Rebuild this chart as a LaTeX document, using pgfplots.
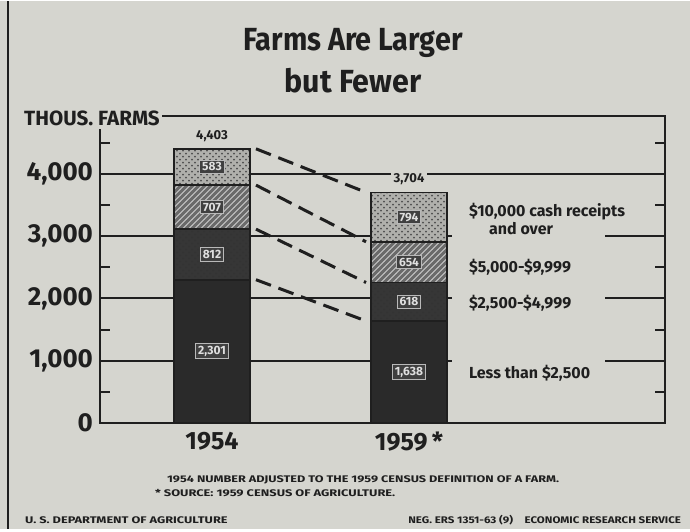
\documentclass[border=0pt]{standalone}
\usepackage{pgfplots}
\pgfplotsset{compat=1.18}
\usepackage{fontspec}
\setmainfont{Fira Sans}
\usetikzlibrary{patterns}
\definecolor{bg}{HTML}{D5D5CF}
\definecolor{ink}{HTML}{1F1F1F}
\definecolor{cA}{HTML}{2A2A2A}
\definecolor{cB}{HTML}{363636}
\definecolor{cC}{HTML}{6A6A6A}
\definecolor{cD}{HTML}{B0B0AC}
\begin{document}
\begin{tikzpicture}
\fill[bg] (0,0) rectangle (345pt,264pt);
\draw[ink, line width=1pt] (4pt,0) -- (4pt,264pt);
% main axis
\begin{axis}[
  name=main,
  scale only axis, width=282.5pt, height=153.5pt,
  at={(50pt,53pt)}, anchor=south west,
  xmin=-0.569, xmax=2.30, ymin=0, ymax=4930,
  ybar stacked, bar width=0.386,
  axis line style={ink, line width=1pt},
  xtick={0,1}, xticklabels={1954,1959\,*},
  x tick label style={font=\bfseries\fontsize{12.5}{14}\selectfont, text=ink, yshift=-1pt},
  major x tick style={draw=none},
  ytick={0,1000,2000,3000,4000},
  yticklabels={0\hspace{10pt},{1,000},{2,000},{3,000},{4,000}},
  y tick label style={font=\bfseries\fontsize{13}{15}\selectfont, text=ink},
  major y tick style={draw=none},
  minor ytick={500,1500,2500,3500,4500},
  minor tick length=5pt,
  minor y tick style={ink, line width=1pt},
  tick align=inside,
  ymajorgrids, major grid style={ink, line width=1pt},
  clip=false,
]
\addplot[fill=cA, draw=ink, line width=0.8pt] coordinates {(0,2301) (1,1638)};
\addplot[fill=cB, draw=ink, line width=0.8pt, postaction={pattern=crosshatch dots, pattern color=black!60!gray}] coordinates {(0,812) (1,618)};
\addplot[fill=cC, draw=ink, line width=0.8pt, postaction={pattern=north east lines, pattern color=gray!40}] coordinates {(0,707) (1,654)};
\addplot[fill=cD, draw=ink, line width=0.8pt, postaction={pattern=crosshatch dots, pattern color=black!70}] coordinates {(0,583) (1,794)};
\fill[bg] (axis cs:1.218,600) rectangle (axis cs:1.995,3580);
\end{axis}
% overlay axis for connectors and labels
\begin{axis}[
  scale only axis, width=282.5pt, height=153.5pt,
  at={(50pt,53pt)}, anchor=south west,
  xmin=-0.569, xmax=2.30, ymin=0, ymax=4930,
  axis lines=none, clip=false,
]
\addplot[ink, line width=1.5pt, dash pattern=on 8pt off 4pt] coordinates {(0.223,4403) (0.782,3704)};
\addplot[ink, line width=1.5pt, dash pattern=on 8pt off 4pt] coordinates {(0.223,3820) (0.782,2910)};
\addplot[ink, line width=1.5pt, dash pattern=on 8pt off 4pt] coordinates {(0.223,3113) (0.782,2256)};
\addplot[ink, line width=1.5pt, dash pattern=on 8pt off 4pt] coordinates {(0.223,2301) (0.782,1638)};
\addplot[only marks, mark=*, mark size=0pt, mark options={draw=none,fill=none},
  nodes near coords, point meta=explicit symbolic,
  nodes near coords style={anchor=center, font=\bfseries\fontsize{6}{7}\selectfont,
    text=gray!25, draw=gray!55, line width=0.5pt, fill=black!75, inner sep=1.2pt}]
  table[meta=lab] {
x y lab
0 1150 2,301
0 2707 812
0 3466 707
0 4112 583
1 819 1,638
1 1947 618
1 2583 654
1 3307 794
};
\addplot[only marks, mark=*, mark size=0pt, mark options={draw=none,fill=none},
  nodes near coords, point meta=explicit symbolic,
  nodes near coords style={anchor=south, yshift=2pt, font=\bfseries\fontsize{6.5}{7}\selectfont,
    text=ink, fill=bg, inner sep=1.5pt}]
  table[meta=lab] {
x y lab
0 4403 4,403
1 3704 3,704
};
\node[anchor=west, font=\bfseries\fontsize{8}{9}\selectfont, text=ink] at (axis cs:1.269,3390) {\$10,000 cash receipts};
\node[anchor=west, font=\bfseries\fontsize{8}{9}\selectfont, text=ink] at (axis cs:1.371,3116) {and over};
\node[anchor=west, font=\bfseries\fontsize{8}{9}\selectfont, text=ink] at (axis cs:1.269,2506) {\$5,000-\$9,999};
\node[anchor=west, font=\bfseries\fontsize{8}{9}\selectfont, text=ink] at (axis cs:1.269,1928) {\$2,500-\$4,999};
\node[anchor=west, font=\bfseries\fontsize{8}{9}\selectfont, text=ink] at (axis cs:1.269,803) {Less than \$2,500};
\end{axis}
% texts
\node[font=\bfseries\fontsize{16}{18}\selectfont, text=ink] at (176.5pt,243pt) {\scalebox{0.9}[1]{Farms Are Larger}};
\node[font=\bfseries\fontsize{16}{18}\selectfont, text=ink] at (176.5pt,224pt) {\scalebox{0.95}[1]{but Fewer}};
\node[font=\bfseries\fontsize{10.3}{12}\selectfont, text=ink, fill=bg, inner xsep=1pt, inner ysep=2pt] at (46pt,205.5pt) {THOUS. FARMS};
\node[anchor=west, font=\bfseries\fontsize{4.8}{5}\selectfont, text=ink] at (80pt,24.5pt) {\scalebox{1.32}[1]{1954 NUMBER ADJUSTED TO THE 1959 CENSUS DEFINITION OF A FARM.}};
\node[anchor=west, font=\bfseries\fontsize{4.8}{5}\selectfont, text=ink] at (74pt,18pt) {\scalebox{1.34}[1]{* SOURCE: 1959 CENSUS OF AGRICULTURE.}};
\node[anchor=west, font=\bfseries\fontsize{4.8}{5}\selectfont, text=ink] at (9pt,4.5pt) {\scalebox{1.33}[1]{U. S. DEPARTMENT OF AGRICULTURE}};
\node[anchor=east, font=\bfseries\fontsize{4.8}{5}\selectfont, text=ink] at (344pt,4.5pt) {\scalebox{1.2}[1]{NEG. ERS 1351-63 (9)\quad ECONOMIC RESEARCH SERVICE}};
\end{tikzpicture}
\end{document}
